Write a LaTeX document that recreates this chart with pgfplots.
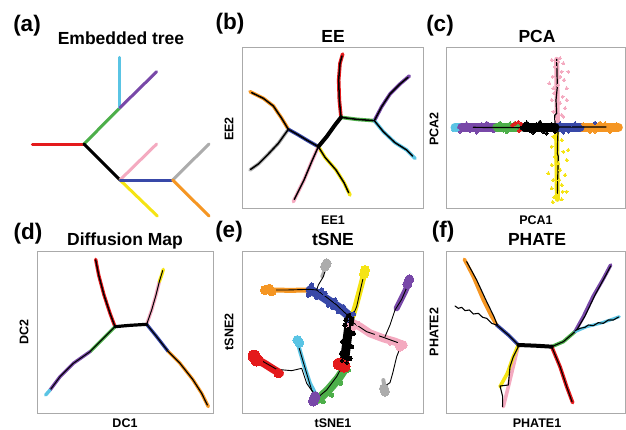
\documentclass[border=0pt]{standalone}
\usepackage{pgfplots}
\pgfplotsset{compat=1.18}
\usepackage{fontspec}
\setmainfont{Liberation Sans}

\definecolor{cRed}{RGB}{228,26,28}
\definecolor{cGreen}{RGB}{77,175,74}
\definecolor{cCyan}{RGB}{90,196,228}
\definecolor{cPurple}{RGB}{120,72,168}
\definecolor{cPink}{RGB}{244,170,192}
\definecolor{cBlue}{RGB}{56,72,168}
\definecolor{cYellow}{RGB}{245,228,20}
\definecolor{cGray}{RGB}{172,172,172}
\definecolor{cOrange}{RGB}{245,150,35}
\definecolor{frameC}{RGB}{170,170,170}

\pgfplotsset{
  panel/.style={scale only axis, anchor=north west, xtick=\empty, ytick=\empty,
    y dir=reverse, axis line style={draw=frameC, line width=0.7pt}},
  br/.style={no markers, line width=#1, line cap=round, line join=round},
  blob/.style={only marks, mark=*, mark size=#1, mark options={line width=0pt}},
}
\newcommand{\ttl}{\bfseries\fontsize{17.5}{20}\selectfont}
\newcommand{\plab}{\bfseries\fontsize{22.5}{26}\selectfont}
\newcommand{\alab}{\bfseries\fontsize{12.5}{14}\selectfont}

\begin{document}
\begin{tikzpicture}
\path[use as bounding box] (0pt,0pt) rectangle (626pt,429pt);

% ---------------- (a) Embedded tree
\begin{axis}[panel, axis lines=none, at={(0pt,384pt)}, width=215pt, height=180pt,
  xmin=0, xmax=645, ymin=135, ymax=675, clip=false]
\addplot[br=3pt, cRed] coordinates {(97,432) (252,432)};
\addplot[br=3pt, cGreen] coordinates {(252,432) (360,323)};
\addplot[br=3pt, cCyan] coordinates {(360,323) (360,172)};
\addplot[br=3pt, cPurple] coordinates {(360,323) (470,215)};
\addplot[br=3pt, black] coordinates {(252,432) (360,540)};
\addplot[br=3pt, cPink] coordinates {(360,540) (470,432)};
\addplot[br=3pt, cYellow] coordinates {(360,540) (472,648)};
\addplot[br=3pt, cBlue] coordinates {(360,540) (518,540)};
\addplot[br=3pt, cGray] coordinates {(518,540) (627,432)};
\addplot[br=3pt, cOrange] coordinates {(518,540) (627,648)};
\end{axis}

% ---------------- (b) EE
\begin{axis}[panel, at={(242pt,382pt)}, width=181pt, height=161pt,
  xmin=96, xmax=639, ymin=141, ymax=624]
\addplot[br=3.6pt, cOrange] coordinates {(235,388) (215,355) (190,318) (160,295) (120,275)};
\addplot[br=3.6pt, cGray] coordinates {(235,388) (205,430) (175,462) (145,492) (120,510)};
\addplot[br=3.6pt, cBlue] coordinates {(325,440) (290,420) (260,402) (235,388)};
\addplot[br=3.6pt, cRed] coordinates {(393,352) (388,300) (386,240) (390,190) (398,162)};
\addplot[br=3.6pt, cGreen] coordinates {(393,352) (440,358) (493,362)};
\addplot[br=3.6pt, cPurple] coordinates {(493,362) (515,320) (540,282) (570,252) (598,228)};
\addplot[br=3.6pt, cCyan] coordinates {(493,362) (520,395) (555,428) (590,450) (615,475)};
\addplot[br=3.6pt, cYellow] coordinates {(325,440) (345,472) (378,510) (402,548) (420,585)};
\addplot[br=3.6pt, cPink] coordinates {(325,440) (305,485) (282,540) (262,580) (250,605)};
% principal graph
\addplot[br=1.5pt, black] coordinates {(235,388) (215,355) (190,318) (160,295) (125,278)};
\addplot[br=1.5pt, black] coordinates {(235,388) (205,430) (175,462) (145,492) (122,508)};
\addplot[br=1.5pt, black] coordinates {(325,440) (290,420) (260,402) (235,388)};
\addplot[br=1.5pt, black] coordinates {(393,352) (388,300) (386,240) (390,190) (396,168)};
\addplot[br=1.5pt, black] coordinates {(393,352) (440,358) (493,362)};
\addplot[br=1.5pt, black] coordinates {(493,362) (515,320) (540,282) (570,252) (594,232)};
\addplot[br=1.5pt, black] coordinates {(493,362) (520,395) (555,428) (590,450) (608,468)};
\addplot[br=1.5pt, black] coordinates {(325,440) (345,472) (378,510) (402,548) (416,578)};
\addplot[br=1.5pt, black] coordinates {(325,440) (305,485) (282,540) (262,580) (253,598)};
\addplot[br=4pt, black] coordinates {(325,440) (350,410) (375,375) (393,352)};
\end{axis}

% ---------------- (c) PCA
\begin{axis}[panel, at={(446pt,382pt)}, width=179pt, height=161pt,
  xmin=78, xmax=615, ymin=141, ymax=624]
\addplot[br=5pt, cPink] coordinates {(410,178) (412,365)};
\addplot[blob=1.6pt, cPink] coordinates {(395,180) (420,175) (430,190) (405,200) (425,215) (398,230)
  (432,240) (415,255) (440,265) (402,280) (428,290) (395,300) (420,310) (435,325) (400,335)
  (425,345) (410,355) (440,300) (388,250) (445,215) (415,185) (400,265) (420,230) (430,350)};
\addplot[br=5pt, cYellow] coordinates {(410,398) (412,598)};
\addplot[blob=1.6pt, cYellow] coordinates {(400,410) (425,420) (395,440) (430,455) (405,470)
  (440,480) (395,495) (420,510) (435,525) (400,540) (425,555) (395,565) (440,575) (410,585)
  (425,598) (398,606) (385,520) (445,450) (415,490) (402,592) (428,575) (418,540)};
\addplot[br=9pt, cCyan] coordinates {(105,382) (125,382)};
\addplot[br=9pt, cPurple] coordinates {(125,382) (230,382)};
\addplot[br=9pt, cGreen] coordinates {(230,382) (300,382)};
\addplot[br=9pt, cOrange] coordinates {(480,382) (595,382)};
\addplot[br=9pt, cBlue] coordinates {(410,382) (480,382)};
\addplot[blob=1.6pt, cCyan] coordinates {(100,390) (108,374) (115,392)};
\addplot[blob=1.6pt, cPurple] coordinates {(120,395) (140,370) (170,398) (200,368) (220,394) (150,392) (185,372)};
\addplot[blob=1.6pt, cGreen] coordinates {(240,368) (260,397) (285,368) (250,392) (270,370)};
\addplot[blob=1.8pt, cRed] coordinates {(285,370) (295,366) (305,372) (298,392) (278,375)};
\addplot[blob=1.6pt, cBlue] coordinates {(420,370) (445,395) (465,370) (430,398) (455,374) (525,368)};
\addplot[blob=1.6pt, cOrange] coordinates {(490,372) (510,396) (540,368) (570,396) (590,372)
  (600,388) (525,395) (555,370) (598,380)};
\addplot[br=9pt, black] coordinates {(312,382) (405,382)};
\addplot[blob=1.8pt, black] coordinates {(320,368) (340,398) (360,366) (380,400) (395,372)
  (330,392) (370,395) (350,372) (405,396) (312,375)};
\addplot[br=1.2pt, black] coordinates {(160,382) (300,383) (420,381) (558,381)};
\addplot[br=1.2pt, black] coordinates {(410,178) (412,260) (408,300) (410,340) (404,346)
  (405,372) (410,385) (414,395) (413,420) (412,460) (415,470) (412,580)};
\end{axis}

% ---------------- (d) Diffusion Map
\begin{axis}[panel, at={(37pt,178pt)}, width=176pt, height=162pt,
  xmin=111, xmax=639, ymin=123, ymax=609]
\addplot[br=3.4pt, cRed] coordinates {(345,350) (330,310) (312,255) (296,195) (287,148)};
\addplot[br=3.4pt, cPink] coordinates {(440,343) (455,300) (468,255) (478,215)};
\addplot[br=3.4pt, cYellow] coordinates {(478,215) (485,195) (490,178)};
\addplot[br=3.4pt, cBlue] coordinates {(440,343) (470,380) (505,425)};
\addplot[br=3.4pt, cOrange] coordinates {(505,425) (540,460) (578,508) (605,550) (625,590)};
\addplot[br=3.4pt, cGreen] coordinates {(345,350) (310,385) (270,425)};
\addplot[br=3.4pt, cPurple] coordinates {(270,425) (220,460) (180,500) (150,540)};
\addplot[br=3.4pt, cCyan] coordinates {(150,540) (137,555)};
\addplot[br=1.4pt, black] coordinates {(345,350) (330,310) (312,255) (296,195) (287,150)};
\addplot[br=1.0pt, black] coordinates {(440,343) (455,300) (468,255) (478,215) (488,182)};
\addplot[br=1.2pt, black] coordinates {(440,343) (470,380) (505,425) (540,460) (578,508) (605,550) (622,585)};
\addplot[br=1.0pt, black] coordinates {(345,350) (310,385) (270,425) (220,460) (180,500) (152,538)};
\addplot[br=3.2pt, black] coordinates {(345,350) (390,346) (440,343)};
\end{axis}

% ---------------- (e) tSNE
\begin{axis}[panel, at={(242pt,178pt)}, width=181pt, height=162pt,
  xmin=96, xmax=639, ymin=123, ymax=609]
\addplot[br=5pt, cOrange] coordinates {(175,240) (240,241) (310,240)};
\addplot[blob=4.5pt, cOrange] coordinates {(165,240) (178,236) (185,244)};
\addplot[br=3pt, cGray] coordinates {(350,165) (335,200)};
\addplot[blob=4.5pt, cGray] coordinates {(350,160) (345,170)};
\addplot[br=9pt, cBlue] coordinates {(300,240) (330,255) (360,275) (390,295) (420,320)};
\addplot[blob=2.2pt, cBlue] coordinates {(305,225) (320,262) (345,250) (355,285) (375,270)
  (385,305) (400,290) (410,330) (295,255) (335,240) (368,292) (430,312)};
\addplot[br=6pt, cYellow] coordinates {(463,190) (450,240) (438,285) (428,318)};
\addplot[blob=4.5pt, cYellow] coordinates {(465,180) (462,192)};
\addplot[br=6pt, cPurple] coordinates {(598,215) (585,245) (570,275) (560,295)};
\addplot[blob=4.5pt, cPurple] coordinates {(598,208) (592,222)};
\addplot[br=8pt, cPink] coordinates {(420,335) (450,350) (480,370) (520,385) (555,395) (580,405)};
\addplot[blob=4.5pt, cPink] coordinates {(578,405) (570,410)};
\addplot[blob=2pt, cPink] coordinates {(410,345) (430,355) (500,375) (540,400) (445,340)};
\addplot[blob=4.5pt, cGray] coordinates {(525,545) (522,535)};
\addplot[br=4pt, cGray] coordinates {(520,510) (525,540)};
\addplot[br=4pt, cCyan] coordinates {(262,395) (272,430) (285,475) (300,520) (318,555)};
\addplot[blob=4.5pt, cCyan] coordinates {(262,390) (268,398)};
\addplot[br=8pt, cRed] coordinates {(135,445) (165,462) (190,478) (210,490)};
\addplot[blob=6pt, cRed] coordinates {(132,438) (140,450)};
\addplot[blob=4.5pt, cRed] coordinates {(205,490)};
\addplot[br=9pt, cGreen] coordinates {(405,475) (385,505) (355,540) (325,568)};
\addplot[blob=2.2pt, cGreen] coordinates {(415,480) (392,520) (365,555) (340,575) (395,490) (370,530)};
\addplot[blob=5pt, cPurple] coordinates {(315,560) (310,573)};
\addplot[br=9pt, black] coordinates {(420,322) (415,360) (410,400) (405,440) (402,452)};
\addplot[blob=2.2pt, black] coordinates {(405,345) (430,370) (398,395) (425,410) (395,430)
  (420,445) (408,330)};
\addplot[blob=6pt, cRed] coordinates {(388,462) (402,468)};
\addplot[blob=1.8pt, black] coordinates {(396,452) (410,458)};
% principal graph
\addplot[br=0.9pt, black] coordinates {(175,240) (230,240) (300,238) (320,240) (345,258) (380,285) (415,318)};
\addplot[br=0.9pt, black] coordinates {(350,168) (340,200) (325,225) (320,240)};
\addplot[br=0.9pt, black] coordinates {(463,188) (450,245) (440,290) (425,325)};
\addplot[br=0.9pt, black] coordinates {(425,325) (418,360) (410,400) (402,460)};
\addplot[br=0.9pt, black] coordinates {(425,335) (470,365) (520,382) (575,402) (560,440)
  (548,490) (540,518) (525,528) (522,545)};
\addplot[br=0.9pt, black] coordinates {(598,215) (575,268) (555,300) (540,345) (525,380)};
\addplot[br=0.9pt, black] coordinates {(402,460) (380,500) (350,540) (320,565)};
\addplot[br=0.9pt, black] coordinates {(262,395) (275,440) (290,490) (305,540) (318,560)};
\addplot[br=0.9pt, black] coordinates {(138,442) (160,455) (200,478) (245,482) (275,475)
  (290,520) (318,560)};
\end{axis}

% ---------------- (f) PHATE
\begin{axis}[panel, at={(446pt,178pt)}, width=179pt, height=162pt,
  xmin=78, xmax=615, ymin=123, ymax=609]
\addplot[br=3.6pt, cOrange] coordinates {(230,345) (215,320) (190,270) (160,200) (133,148)};
\addplot[br=3.6pt, cBlue] coordinates {(230,345) (265,375) (295,405)};
\addplot[br=3.6pt, cGreen] coordinates {(395,410) (430,395) (465,365)};
\addplot[br=3.6pt, cPurple] coordinates {(465,365) (490,320) (520,258) (548,210) (572,165)};
\addplot[br=3pt, cCyan] coordinates {(465,365) (500,350) (540,340) (570,330) (598,320)};
\addplot[br=3.6pt, cRed] coordinates {(395,410) (420,470) (440,530) (458,578)};
\addplot[br=3.6pt, cPink] coordinates {(295,405) (282,460) (265,530) (250,590)};
\addplot[br=3.6pt, cYellow] coordinates {(295,405) (278,445) (262,490) (240,530)};
% principal graph
\addplot[br=1.1pt, black] coordinates {(232,345) (222,320) (200,275) (170,210) (140,155)};
\addplot[br=1.1pt, black] coordinates {(105,288) (115,295) (125,292) (135,302) (148,300)
  (160,312) (175,310) (188,322) (200,325) (215,340) (230,345)};
\addplot[br=1.1pt, black] coordinates {(230,345) (265,375) (295,405)};
\addplot[br=1.1pt, black] coordinates {(395,410) (430,395) (465,365)};
\addplot[br=1.1pt, black] coordinates {(470,360) (495,318) (525,255) (555,200) (572,168)};
\addplot[br=1.1pt, black] coordinates {(465,362) (480,355) (495,352) (505,345) (520,347)
  (535,338) (550,340) (565,330) (580,330) (596,321)};
\addplot[br=1.1pt, black] coordinates {(395,410) (420,470) (440,530) (456,575)};
\addplot[br=1.1pt, black] coordinates {(295,410) (280,440) (270,470) (265,525) (240,528)
  (248,560) (248,590)};
\addplot[br=4pt, black] coordinates {(295,405) (345,407) (395,410)};
\end{axis}

% ---------------- texts
\node[font=\plab] at (27pt,403pt) {(a)};
\node[font=\ttl] at (121pt,391pt) {Embedded tree};
\node[font=\plab] at (230pt,405pt) {(b)};
\node[font=\ttl] at (333pt,393pt) {EE};
\node[font=\plab] at (440pt,403pt) {(c)};
\node[font=\ttl] at (537pt,393pt) {PCA};
\node[font=\plab] at (28pt,195pt) {(d)};
\node[font=\ttl] at (125pt,188pt) {Diffusion Map};
\node[font=\plab] at (229pt,197pt) {(e)};
\node[font=\ttl] at (333pt,190pt) {tSNE};
\node[font=\plab] at (443pt,197pt) {(f)};
\node[font=\ttl] at (537pt,190pt) {PHATE};

\node[font=\alab] at (333pt,209pt) {EE1};
\node[font=\alab] at (536pt,209pt) {PCA1};
\node[font=\alab] at (125pt,6pt) {DC1};
\node[font=\alab] at (333pt,6pt) {tSNE1};
\node[font=\alab] at (537pt,6pt) {PHATE1};
\node[font=\alab, rotate=90] at (229pt,300pt) {EE2};
\node[font=\alab, rotate=90] at (434pt,300pt) {PCA2};
\node[font=\alab, rotate=90] at (24pt,97pt) {DC2};
\node[font=\alab, rotate=90] at (229pt,97pt) {tSNE2};
\node[font=\alab, rotate=90] at (434pt,97pt) {PHATE2};
\end{tikzpicture}
\end{document}
